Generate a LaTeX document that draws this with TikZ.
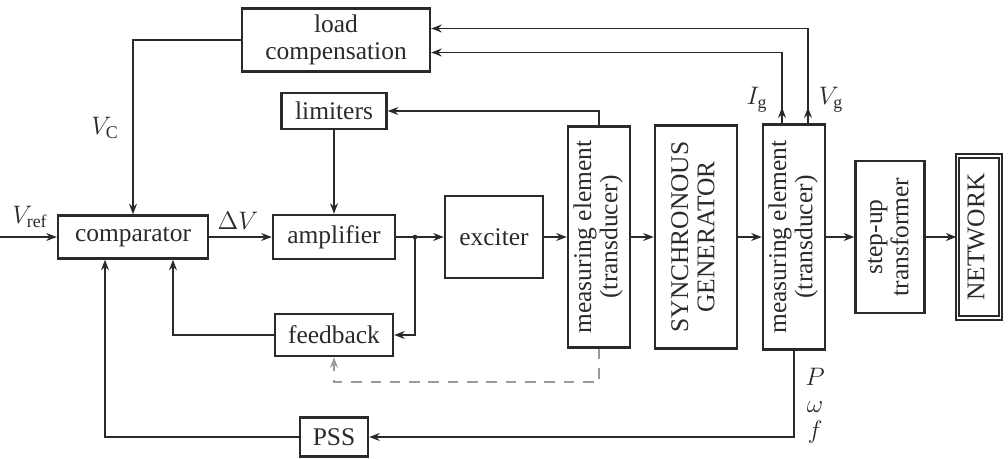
\documentclass[tikz,border=0pt]{standalone}
\usepackage{fontspec,xcolor,graphicx}
\setmainfont{Liberation Serif}
\usetikzlibrary{arrows.meta,decorations.markings}
\definecolor{ink}{HTML}{2A2A2A}
\definecolor{dashgray}{HTML}{9A9A9A}
\newcommand{\vtext}[1]{\rotatebox{90}{\begin{tabular}{@{}c@{}}#1\end{tabular}}}

\begin{document}
\begin{tikzpicture}[x=0.02cm,y=-0.02cm,
  every node/.style={font=\fontsize{14.5}{15}\selectfont,text=ink},
  blk/.style={draw=ink,line width=1.4pt,inner sep=0pt,align=center},
  arr/.style={draw=ink,line width=0.9pt,-{Stealth[length=6pt,width=4.5pt]}},
  uparr/.style={postaction={decorate},decoration={markings,mark=at position 0.32cm with {\arrow{Stealth[length=6pt,width=4.5pt]}}}},
  dsh/.style={arr,draw=dashgray,dash pattern=on 6pt off 5pt}]
\useasboundingbox (0,0) rectangle (1008,459);
\node[blk,minimum width=3.76cm,minimum height=1.26cm] (loadc) at (336,40) {load\\compensation};
\node[blk,minimum width=2.1cm,minimum height=0.72cm] (lim) at (334,111) {limiters};
\node[blk,minimum width=3cm,minimum height=0.86cm] (comp) at (133,237) {comparator};
\node[blk,minimum width=2.44cm,minimum height=0.88cm] (amp) at (334,237) {amplifier};
\node[blk,minimum width=2.36cm,minimum height=0.84cm] (fb) at (334,335) {feedback};
\node[blk,minimum width=1.36cm,minimum height=0.78cm] (pss) at (334,437) {PSS};
\node[blk,minimum width=1.96cm,minimum height=1.64cm] (exc) at (494,237) {exciter};
\node[blk,minimum width=1.24cm,minimum height=4.42cm] (meA) at (599,237) {\vtext{measuring element\\(transducer)}};
\node[blk,minimum width=1.64cm,minimum height=4.46cm] (gen) at (696,237) {\vtext{SYNCHRONOUS\\GENERATOR}};
\node[blk,minimum width=1.24cm,minimum height=4.5cm] (meB) at (794,237) {\vtext{measuring element\\(transducer)}};
\node[blk,minimum width=1.38cm,minimum height=3.04cm] (trf) at (890,237) {\vtext{step-up\\transformer}};
\node[blk,line width=1.2pt,double,double distance=0.8pt,minimum width=0.86cm,minimum height=3.24cm] (net) at (979,237) {\vtext{NETWORK}};
\node (vref) at (30,217) {$V_{\mathrm{ref}}$};
\node (dv) at (238,221) {$\Delta V$};
\node (vc) at (105,128) {$V_{\mathrm{C}}$};
\node (ig) at (757,100) {$I_{\mathrm{g}}$};
\node (vg) at (831,100) {$V_{\mathrm{g}}$};
\node[align=center] (pwf) at (815,406) {$P$\\$\omega$\\$f$};
\coordinate (vin) at (0,237);
\coordinate (br) at (415,237);
\coordinate (dk) at (599,382);
\draw[arr] (vin) -- (comp);
\draw[arr] (comp) -- (amp);
\draw[arr] (lim) -- (amp);
\draw[arr] (amp) -- (exc);
\fill[ink] (br) circle (1.3pt);
\draw[arr] (br) |- (fb.east);
\draw[arr] (fb.west) -| ([xshift=0.8cm]comp.south);
\draw[arr] (pss.west) -| ([xshift=-0.56cm]comp.south);
\draw[arr] (loadc.west) -| (comp.north);
\draw[arr] (meA.north) |- (lim.east);
\draw[arr] (exc) -- (meA);
\draw[arr] (meA) -- (gen);
\draw[arr] (gen) -- (meB);
\draw[arr] (meB) -- (trf);
\draw[arr] (trf) -- (net);
\draw[arr,uparr] ([xshift=-0.24cm]meB.north) |- ([yshift=-0.25cm]loadc.east);
\draw[arr,uparr] ([xshift=0.28cm]meB.north) |- ([yshift=0.23cm]loadc.east);
\draw[arr] (meB.south) |- (pss.east);
\draw[dsh] (meA.south) -- (dk) -| (fb.south);
\end{tikzpicture}
\end{document}
